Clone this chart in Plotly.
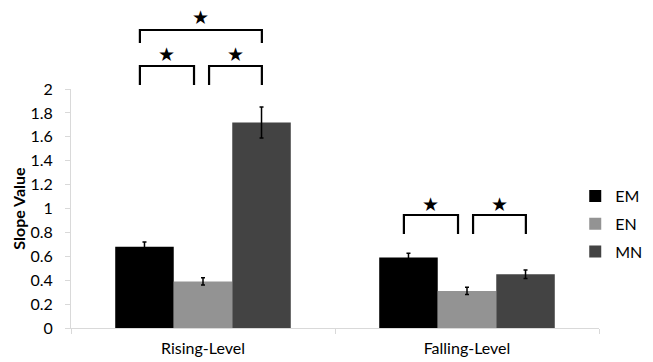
import plotly.graph_objects as go

categories = ["Rising-Level", "Falling-Level"]
series_names = ["EM", "EN", "MN"]
em_values = [0.68, 0.59]
en_values = [0.39, 0.31]
mn_values = [1.72, 0.45]
em_err = [0.04, 0.035]
en_err = [0.03, 0.03]
mn_err = [0.13, 0.035]
y_ticks = [0, 0.2, 0.4, 0.6, 0.8, 1, 1.2, 1.4, 1.6, 1.8, 2]
y_tick_text = ["0", "0.2", "0.4", "0.6", "0.8", "1", "1.2", "1.4", "1.6", "1.8", "2"]

colors = ["#000000", "#939393", "#434343"]
values = [em_values, en_values, mn_values]
errors = [em_err, en_err, mn_err]

FONT = "Lato, 'Open Sans', sans-serif"
fig = go.Figure()
for name, vals, errs, col in zip(series_names, values, errors, colors):
    fig.add_trace(go.Bar(
        x=categories, y=vals, name=name, marker_color=col, marker_line_width=0,
        legendgroup=name,
        error_y=dict(type="data", array=errs, color="#000000", thickness=1.5, width=2),
    ))

# significance brackets (category index coords, paper y)
H, B, T = 362 - 34, 34, 89
ph = H - T
def py(p):
    return (H - p) / ph

brackets = [
    # x0, x1, top pixel y, bottom pixel y, star centre pixel y
    (-0.239, 0.223, 30, 43, 18),
    (-0.239, -0.034, 66, 85, 55),
    (0.023, 0.223, 66, 85, 55),
    (1 - 0.239, 1 - 0.034, 215, 234, 205),
    (1 + 0.023, 1 + 0.223, 215, 234, 205),
]
for x0, x1, top, bot, star in brackets:
    fig.add_shape(type="path",
                  path=f"M {x0},{py(bot)} L {x0},{py(top)} L {x1},{py(top)} L {x1},{py(bot)}",
                  xref="x", yref="paper", line=dict(color="black", width=2.2))
    fig.add_annotation(x=(x0 + x1) / 2, y=py(star), xref="x", yref="paper",
                       yanchor="middle", yshift=1,
                       text="★", showarrow=False,
                       font=dict(family="DejaVu Sans", size=19, color="black"))

fig.update_layout(
    width=653, height=362,
    margin=dict(l=71, r=54, t=T, b=B, autoexpand=False),
    paper_bgcolor="white", plot_bgcolor="white",
    barmode="group", bargap=0.335, bargroupgap=0,
    font=dict(family=FONT, size=16, color="#000000"),
    showlegend=True,
    legend=dict(x=0.955, y=0.435, xanchor="left", yanchor="middle",
                font=dict(size=16), tracegroupgap=4, itemwidth=30),
    xaxis=dict(showline=True, linecolor="#d9d9d9", linewidth=1,
               ticks="outside", tickson="boundaries", tickcolor="#d9d9d9", ticklen=5,
               showgrid=False, tickfont=dict(size=16), automargin=False,
               ticklabelstandoff=6),
    yaxis=dict(range=[0, 2], tickvals=y_ticks, ticktext=y_tick_text,
               showline=True, linecolor="#d9d9d9", linewidth=1,
               ticks="outside", tickcolor="#d9d9d9", ticklen=5,
               showgrid=False, zeroline=False, tickfont=dict(size=16),
               automargin=False, ticklabelstandoff=9,
               title=dict(text="<b>Slope Value</b>", font=dict(size=16), standoff=0)),
)
fig.write_html("out.html", config={"displayModeBar": False},
               post_script="document.body.style.margin='0';document.body.style.overflow='hidden';")
